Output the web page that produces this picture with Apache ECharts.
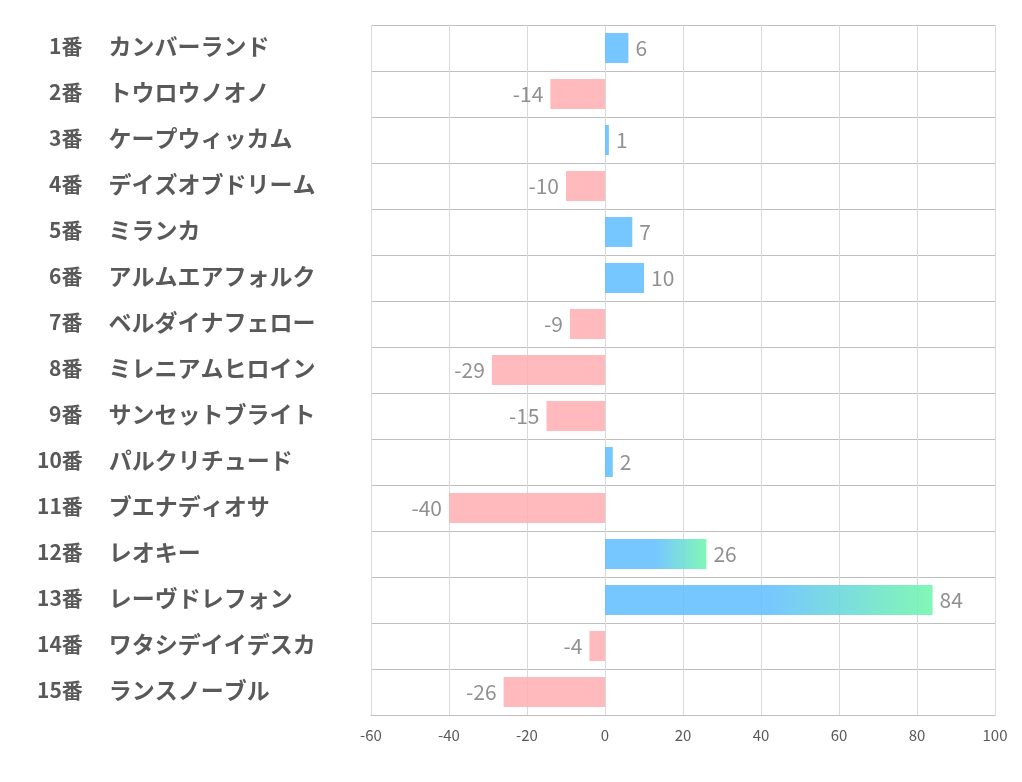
<!DOCTYPE html>
<html><head><meta charset="utf-8">
<script src="https://cdn.jsdelivr.net/npm/echarts@6/dist/echarts.min.js"></script>
<style>html,body{margin:0;padding:0;background:#fff}#c{width:1022px;height:782px}</style>
</head><body><div id="c"></div>
<script>
const numbers = ['1番','2番','3番','4番','5番','6番','7番','8番','9番','10番','11番','12番','13番','14番','15番'];
const names = ['カンバーランド','トウロウノオノ','ケープウィッカム','デイズオブドリーム','ミランカ','アルムエアフォルク','ベルダイナフェロー','ミレニアムヒロイン','サンセットブライト','パルクリチュード','ブエナディオサ','レオキー','レーヴドレフォン','ワタシデイイデスカ','ランスノーブル'];
const values = [6,-14,1,-10,7,10,-9,-29,-15,2,-40,26,84,-4,-26];
const xTicks = {min:-60, max:100, interval:20};

const blue = '#62bfff', pink = '#ffb0b4', green = '#6ff6ac';
const data = values.map(v => {
  let color;
  if (v < 0) color = pink;
  else if (v >= 20) color = {type:'linear', x:0, y:0, x2:1, y2:0, colorStops:[{offset:0,color:blue},{offset:0.5,color:blue},{offset:1,color:green}]};
  else color = blue;
  return {value:v, itemStyle:{color:color, opacity:0.87},
    label:{position: v < 0 ? 'left' : 'right'}};
});

const font = 'Noto Sans CJK JP';
const chart = echarts.init(document.getElementById('c'));
chart.setOption({
  animation:false,
  grid:{left:371, right:27, top:25, bottom:67},
  xAxis:{type:'value', min:xTicks.min, max:xTicks.max, interval:xTicks.interval,
    axisLine:{show:true, lineStyle:{color:'#bfbfbf', width:1}},
    axisTick:{show:false},
    splitLine:{show:true, lineStyle:{color:'#d9d9d9', width:1}},
    axisLabel:{color:'#595959', fontSize:15, margin:13, fontFamily:font}},
  yAxis:{type:'category', inverse:true, data:numbers.map((n,i)=>n+'|'+names[i]),
    axisLine:{show:false}, axisTick:{show:false},
    splitLine:{show:true, lineStyle:{color:'#bfbfbf', width:1}},
    axisLabel:{align:'left', margin:334,
      formatter:function(v){const p=v.split('|');return (p[0].length<3?'{a1|':'{a|')+p[0]+'}{b|'+p[1]+'}';},
      rich:{
        a:{fontSize:21, fontWeight:'bold', color:'#595959', fontFamily:font, padding:[0,0,3,0]},
        a1:{padding:[0,0,3,12], fontSize:21, fontWeight:'bold', color:'#595959', fontFamily:font},
        b:{padding:[0,0,3,26], fontSize:23, fontWeight:'bold', color:'#595959', fontFamily:font}
      }}},
  series:[{type:'bar', data:data, barWidth:30,
    label:{show:true, distance:7, fontSize:21, color:'#7f7f7f', fontFamily:font}}]
});
</script></body></html>
